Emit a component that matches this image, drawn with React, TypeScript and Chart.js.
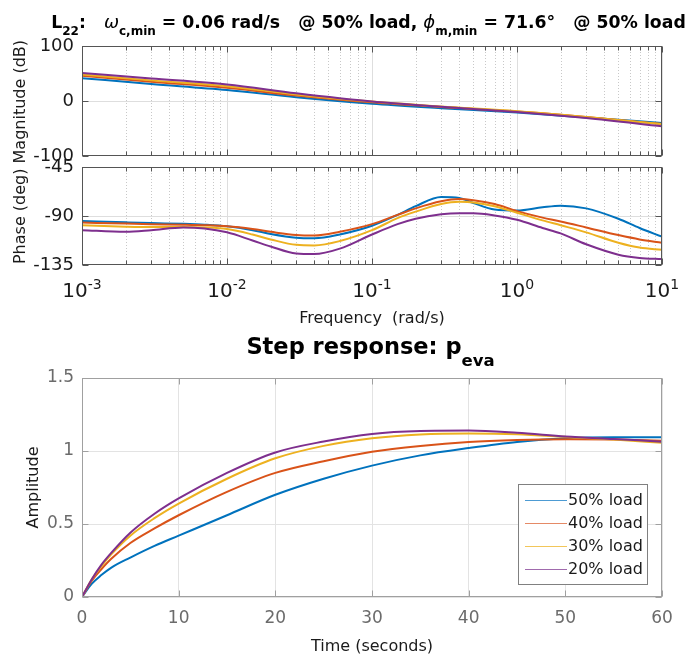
import React, { useEffect, useRef } from 'react';
import { Chart, registerables } from 'chart.js';
Chart.register(...registerables);

const FONT = '"DejaVu Sans", sans-serif';

// ---------- data ----------
const seriesLabels = ['50% load', '40% load', '30% load', '20% load'];
const seriesColors = ['#0072BD', '#D95319', '#EDB120', '#7E2F8E'];
const legendLineColors = ['#4d9bd3', '#e58a66', '#f2c65a', '#a06aad'];

// Bode magnitude (dB)
const magFreq = [0.001, 0.003, 0.01, 0.03, 0.1, 0.3, 1, 3, 10];
const mag50 = [41.5, 31, 20, 7, -5, -13, -21, -30, -40];
const mag40 = [46, 35, 24, 10, -2.5, -11, -19, -29, -42];
const mag30 = [48, 37.5, 27, 12, -1, -10, -18.5, -29, -42];
const mag20 = [51, 41, 30, 14, -1, -10.5, -20, -31, -46];

// Bode phase (deg)
const phaseFreq = [0.001, 0.002, 0.003, 0.005, 0.007, 0.01, 0.015, 0.02, 0.03, 0.04, 0.06, 0.1, 0.15, 0.2, 0.3, 0.4, 0.5, 0.7, 1, 1.5, 2, 3, 5, 7, 10];
const phase50 = [-94.5, -95.8, -96.5, -97.2, -98, -99.5, -103, -106.5, -110, -110.5, -107, -99, -89, -81, -72.5, -73.5, -78, -84, -85, -82, -80.5, -83, -92.5, -101, -109];
const phase40 = [-96, -97, -97.5, -98, -98.5, -99.5, -102, -104.5, -107.5, -108, -104.5, -97.5, -89, -83, -76.5, -74.5, -75.5, -79, -85.5, -91.5, -95, -100.5, -107.5, -111.5, -114.5];
const phase30 = [-98.5, -99.8, -100.2, -100, -100.5, -102, -107, -111.5, -116.5, -117, -113, -103, -92, -86, -79, -77, -77.5, -81, -87, -94, -98.5, -105, -114.5, -119, -121];
const phase20 = [-103, -104.5, -103, -100.5, -101.5, -105, -112.5, -118, -124.5, -125, -120, -107, -97.5, -92.5, -88.5, -87.5, -87.5, -89.5, -93.5, -101, -106, -116, -125.5, -128.5, -129.5];

// Step response
const stepTime = [0, 1, 2, 3, 5, 7.5, 10, 15, 20, 25, 30, 35, 40, 45, 50, 55, 60];
const step50 = [0, 0.09, 0.15, 0.2, 0.27, 0.35, 0.42, 0.56, 0.7, 0.81, 0.9, 0.97, 1.02, 1.062, 1.087, 1.094, 1.094];
const step40 = [0, 0.11, 0.19, 0.26, 0.37, 0.47, 0.56, 0.72, 0.85, 0.93, 0.995, 1.035, 1.062, 1.075, 1.08, 1.078, 1.07];
const step30 = [0, 0.12, 0.21, 0.29, 0.42, 0.54, 0.64, 0.81, 0.95, 1.035, 1.087, 1.113, 1.12, 1.115, 1.097, 1.078, 1.057];
const step20 = [0, 0.12, 0.22, 0.3, 0.44, 0.57, 0.675, 0.85, 0.99, 1.065, 1.117, 1.137, 1.14, 1.125, 1.1, 1.082, 1.064];

// ticks
const freqDecades = [0.001, 0.01, 0.1, 1, 10];
const freqExponents = [-3, -2, -1, 0, 1];
const freqMinor: number[] = [];
for (let e = -3; e < 1; e++) for (let d = 2; d <= 9; d++) freqMinor.push(d * Math.pow(10, e));
const magTicks = [-100, 0, 100];
const phaseTicks = [-135, -90, -45];
const timeTicks = [0, 10, 20, 30, 40, 50, 60];
const ampTicks = [0, 0.5, 1, 1.5];

// ---------- helpers ----------
function lineDatasets(xs: number[], ys: number[][]) {
  return ys.map((arr, i) => ({
    label: seriesLabels[i],
    data: xs.map((x, j) => ({ x, y: arr[j] })),
    borderColor: seriesColors[i],
    backgroundColor: seriesColors[i],
    borderWidth: 2,
    pointRadius: 0,
    cubicInterpolationMode: 'monotone',
    fill: false,
    order: 3 - i,
  }));
}

const isDecade = (v: number) => Math.abs(Math.log10(v) - Math.round(Math.log10(v))) < 1e-6;

type FrameCfg = {
  boxColor: string;
  xTicks: number[];
  xMinor?: number[];
  yTicks: number[];
  tickLen: number;
  minorLen?: number;
  minorGrid?: string;
  logLabels?: boolean;
  legend?: boolean;
};

function makeFrame(cfg: FrameCfg) {
  return {
    id: 'matlabFrame',
    beforeDatasetsDraw(chart: any) {
      if (!cfg.minorGrid || !cfg.xMinor) return;
      const { ctx, chartArea: a, scales } = chart;
      ctx.save();
      ctx.strokeStyle = cfg.minorGrid;
      ctx.lineWidth = 1;
      ctx.setLineDash([1, 2]);
      for (const v of cfg.xMinor) {
        const px = Math.round(scales.x.getPixelForValue(v)) + 0.5;
        ctx.beginPath();
        ctx.moveTo(px, a.top);
        ctx.lineTo(px, a.bottom);
        ctx.stroke();
      }
      ctx.restore();
    },
    afterDatasetsDraw(chart: any) {
      const { ctx, chartArea: a, scales } = chart;
      ctx.save();
      ctx.strokeStyle = cfg.boxColor;
      ctx.lineWidth = 1;
      const L = Math.round(a.left) + 0.5;
      const R = Math.round(a.right) - 0.5;
      const T = Math.round(a.top) + 0.5;
      const B = Math.round(a.bottom) - 0.5;
      ctx.strokeRect(L, T, R - L, B - T);
      ctx.beginPath();
      for (const v of cfg.xTicks) {
        const px = Math.round(scales.x.getPixelForValue(v)) + 0.5;
        ctx.moveTo(px, B); ctx.lineTo(px, B - cfg.tickLen);
        ctx.moveTo(px, T); ctx.lineTo(px, T + cfg.tickLen);
      }
      if (cfg.xMinor && cfg.minorLen) {
        for (const v of cfg.xMinor) {
          const px = Math.round(scales.x.getPixelForValue(v)) + 0.5;
          ctx.moveTo(px, B); ctx.lineTo(px, B - cfg.minorLen);
          ctx.moveTo(px, T); ctx.lineTo(px, T + cfg.minorLen);
        }
      }
      for (const v of cfg.yTicks) {
        const py = Math.round(scales.y.getPixelForValue(v)) + 0.5;
        ctx.moveTo(L, py); ctx.lineTo(L + cfg.tickLen, py);
        ctx.moveTo(R, py); ctx.lineTo(R - cfg.tickLen, py);
      }
      ctx.stroke();
      ctx.restore();
    },
    afterDraw(chart: any) {
      const { ctx, chartArea: a, scales } = chart;
      if (cfg.logLabels) {
        ctx.save();
        ctx.fillStyle = '#1a1a1a';
        ctx.textBaseline = 'alphabetic';
        ctx.textAlign = 'left';
        freqDecades.forEach((v, i) => {
          const px = scales.x.getPixelForValue(v);
          const base = '10';
          const sup = String(freqExponents[i]);
          ctx.font = `20px ${FONT}`;
          const w1 = ctx.measureText(base).width;
          ctx.font = `14px ${FONT}`;
          const w2 = ctx.measureText(sup).width;
          const x0 = px - (w1 + w2) / 2;
          ctx.font = `20px ${FONT}`;
          ctx.fillText(base, x0, a.bottom + 32);
          ctx.font = `14px ${FONT}`;
          ctx.fillText(sup, x0 + w1, a.bottom + 24);
        });
        ctx.restore();
      }
      if (cfg.legend) {
        ctx.save();
        const bx = 518, by = 484, bw = 130, bh = 101;
        ctx.fillStyle = '#ffffff';
        ctx.fillRect(bx, by, bw, bh);
        ctx.strokeStyle = '#808080';
        ctx.lineWidth = 1;
        ctx.strokeRect(bx + 0.5, by + 0.5, bw - 1, bh - 1);
        ctx.font = `16px ${FONT}`;
        ctx.textBaseline = 'middle';
        ctx.textAlign = 'left';
        for (let i = 0; i < seriesLabels.length; i++) {
          const y = by + 16 + i * 23;
          ctx.strokeStyle = legendLineColors[i];
          ctx.lineWidth = 1;
          ctx.beginPath();
          ctx.moveTo(525, y + 0.5);
          ctx.lineTo(567, y + 0.5);
          ctx.stroke();
          ctx.fillStyle = '#1a1a1a';
          ctx.fillText(seriesLabels[i], 568, y + 1);
        }
        ctx.restore();
      }
    },
  };
}

const BODE_GRID = '#dedede';
const STEP_GRID = '#e3e3e3';
const W = 696;
const H = 656;

function magConfig(): any {
  return {
    type: 'line',
    data: { datasets: lineDatasets(magFreq, [mag50, mag40, mag30, mag20]) },
    options: {
      responsive: false,
      animation: false,
      devicePixelRatio: 1,
      layout: { autoPadding: false, padding: { left: 0, right: W - 662, top: 46, bottom: H - 156 } },
      plugins: { legend: { display: false }, tooltip: { enabled: false }, title: { display: false } },
      scales: {
        x: {
          type: 'logarithmic', min: 0.001, max: 10,
          ticks: { display: false },
          grid: { drawTicks: false, color: (c: any) => (c.tick && isDecade(c.tick.value) ? BODE_GRID : 'rgba(0,0,0,0)') },
          border: { display: false },
          afterFit: (s: any) => { s.height = 0; },
        },
        y: {
          type: 'linear', min: -100, max: 100,
          ticks: { stepSize: 100, color: '#1a1a1a', padding: 8, font: { size: 18 } },
          grid: { drawTicks: false, color: (c: any) => (c.tick && c.tick.value === 0 ? BODE_GRID : 'rgba(0,0,0,0)') },
          border: { display: false },
          afterFit: (s: any) => { s.width = 82; },
        },
      },
    },
    plugins: [makeFrame({ boxColor: '#555555', xTicks: freqDecades, xMinor: freqMinor, yTicks: magTicks, tickLen: 6, minorLen: 4, minorGrid: '#c8c8c8' })],
  };
}

function phaseConfig(): any {
  return {
    type: 'line',
    data: { datasets: lineDatasets(phaseFreq, [phase50, phase40, phase30, phase20]) },
    options: {
      responsive: false,
      animation: false,
      devicePixelRatio: 1,
      layout: { autoPadding: false, padding: { left: 0, right: W - 662, top: 167, bottom: H - 265 - 63 } },
      plugins: { legend: { display: false }, tooltip: { enabled: false }, title: { display: false } },
      scales: {
        x: {
          type: 'logarithmic', min: 0.001, max: 10,
          ticks: { display: false },
          grid: { drawTicks: false, color: (c: any) => (c.tick && isDecade(c.tick.value) ? BODE_GRID : 'rgba(0,0,0,0)') },
          border: { display: false },
          title: { display: true, text: 'Frequency  (rad/s)', color: '#1a1a1a', font: { size: 16 }, padding: { top: 0, bottom: 0 } },
          afterFit: (s: any) => { s.height = 63; },
        },
        y: {
          type: 'linear', min: -135, max: -45,
          ticks: { stepSize: 45, color: '#1a1a1a', padding: 8, font: { size: 18 } },
          grid: { drawTicks: false, color: (c: any) => (c.tick && c.tick.value === -90 ? BODE_GRID : 'rgba(0,0,0,0)') },
          border: { display: false },
          afterFit: (s: any) => { s.width = 82; },
        },
      },
    },
    plugins: [makeFrame({ boxColor: '#555555', xTicks: freqDecades, xMinor: freqMinor, yTicks: phaseTicks, tickLen: 6, minorLen: 4, minorGrid: '#c8c8c8', logLabels: true })],
  };
}

function stepConfig(): any {
  return {
    type: 'line',
    data: { datasets: lineDatasets(stepTime, [step50, step40, step30, step20]) },
    options: {
      responsive: false,
      animation: false,
      devicePixelRatio: 1,
      layout: { autoPadding: false, padding: { left: 0, right: W - 662, top: 378, bottom: 0 } },
      plugins: { legend: { display: false }, tooltip: { enabled: false }, title: { display: false } },
      scales: {
        x: {
          type: 'linear', min: 0, max: 60,
          ticks: { stepSize: 10, color: '#6b6b6b', padding: 11, font: { size: 17 }, callback: (v: any) => String(Math.round(Number(v) * 10) / 10) },
          grid: { drawTicks: false, color: STEP_GRID },
          border: { display: false },
          title: { display: true, text: 'Time (seconds)', color: '#1a1a1a', font: { size: 16 }, padding: { top: 0, bottom: 0 } },
          afterFit: (s: any) => { s.height = H - 597; },
        },
        y: {
          type: 'linear', min: 0, max: 1.5,
          ticks: { stepSize: 0.5, color: '#6b6b6b', padding: 8, font: { size: 17 }, callback: (v: any) => String(Math.round(Number(v) * 10) / 10) },
          grid: { drawTicks: false, color: STEP_GRID },
          border: { display: false },
          title: { display: true, text: 'Amplitude', color: '#1a1a1a', font: { size: 16 }, padding: { top: 24, bottom: 0 } },
          afterFit: (s: any) => { s.width = 82; },
        },
      },
    },
    plugins: [makeFrame({ boxColor: '#a0a0a0', xTicks: timeTicks, yTicks: ampTicks, tickLen: 6, legend: true })],
  };
}

const canvasStyle: React.CSSProperties = { position: 'absolute', left: 0, top: 0, width: W, height: H };
const subStyle = (size: number, top: number): React.CSSProperties => ({ fontSize: size, position: 'relative', top });
const greek: React.CSSProperties = { fontStyle: 'italic', fontWeight: 'normal', fontSize: 18 };

export default function App() {
  const magRef = useRef<HTMLCanvasElement>(null);
  const phRef = useRef<HTMLCanvasElement>(null);
  const stRef = useRef<HTMLCanvasElement>(null);

  useEffect(() => {
    Chart.defaults.font.family = FONT;
    const charts = [
      new Chart(magRef.current as HTMLCanvasElement, magConfig()),
      new Chart(phRef.current as HTMLCanvasElement, phaseConfig()),
      new Chart(stRef.current as HTMLCanvasElement, stepConfig()),
    ];
    return () => charts.forEach((c) => c.destroy());
  }, []);

  return (
    <div style={{ position: 'fixed', left: 0, top: 0, width: W, height: H, background: '#ffffff', overflow: 'hidden', fontFamily: FONT, color: '#000' }}>
      <canvas ref={magRef} width={W} height={H} style={canvasStyle} />
      <canvas ref={phRef} width={W} height={H} style={canvasStyle} />
      <canvas ref={stRef} width={W} height={H} style={canvasStyle} />

      <div style={{ position: 'absolute', left: 368.5, top: 13, transform: 'translateX(-50%)', whiteSpace: 'pre', fontWeight: 'bold', fontSize: 17.3, lineHeight: '17.5px' }}>
        {'L'}<span style={subStyle(12, 7)}>{'22'}</span>{':   '}
        <span style={greek}>{'ω'}</span><span style={subStyle(12, 7)}>{'c,min'}</span>{' = 0.06 rad/s   @ 50% load, '}
        <span style={greek}>{'ϕ'}</span><span style={subStyle(12, 7)}>{'m,min'}</span>{' = 71.6°   @ 50% load'}
      </div>

      <div style={{ position: 'absolute', left: 20 - 150, top: 152 - 10, width: 300, height: 20, lineHeight: '20px', textAlign: 'center', transform: 'rotate(-90deg)', fontSize: 16, whiteSpace: 'pre', color: '#1a1a1a' }}>
        {'Phase (deg) Magnitude (dB)'}
      </div>

      <div style={{ position: 'absolute', left: 370.5, top: 334.5, transform: 'translateX(-50%)', whiteSpace: 'pre', fontWeight: 'bold', fontSize: 22.5, lineHeight: '22.5px' }}>
        {'Step response: p'}<span style={subStyle(16.5, 12)}>{'eva'}</span>
      </div>
    </div>
  );
}
